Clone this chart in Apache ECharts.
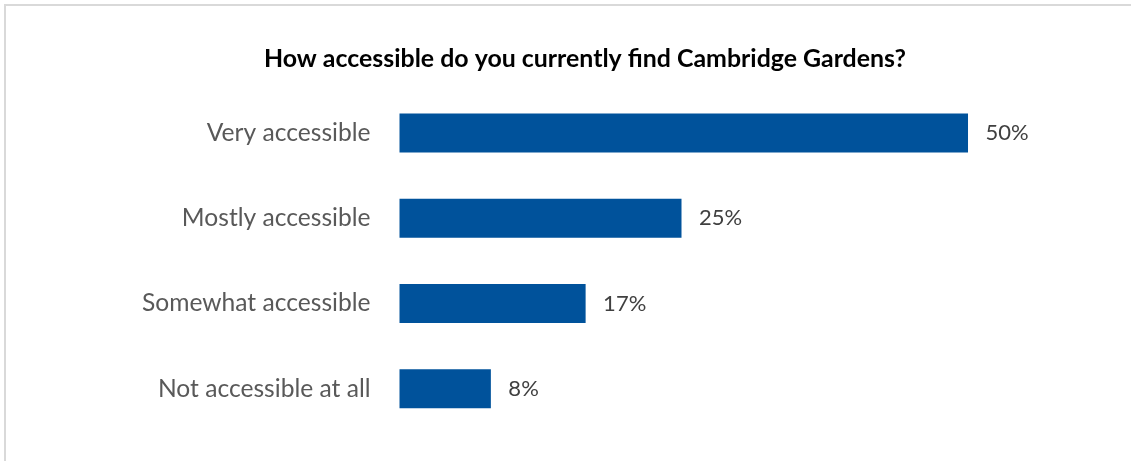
<!DOCTYPE html>
<html>
<head>
<meta charset="utf-8">
<script src="https://cdn.jsdelivr.net/npm/echarts@6/dist/echarts.min.js"></script>
<style>
html,body{margin:0;padding:0;background:#fff;}
#chart{width:1131px;height:461px;}
</style>
</head>
<body>
<div id="chart"></div>
<script>
const titleText = "How accessible do you currently find Cambridge Gardens?";
const categories = ["Very accessible", "Mostly accessible", "Somewhat accessible", "Not accessible at all"];
const values = [50.4, 25.0, 16.5, 8.1];

const chart = echarts.init(document.getElementById('chart'), null, {renderer: 'canvas'});
const option = {
  animation: false,
  backgroundColor: '#ffffff',
  title: {
    text: titleText,
    left: 580, top: 41, textAlign: 'center',
    textStyle: {fontFamily: 'Lato', fontWeight: 'bold', fontSize: 24.9, color: '#000000'}
  },
  graphic: [
    {type: 'line', shape: {x1: 4, y1: 5, x2: 1131, y2: 5}, style: {stroke: '#d9d9d9', lineWidth: 2}},
    {type: 'line', shape: {x1: 5, y1: 4, x2: 5, y2: 461}, style: {stroke: '#d9d9d9', lineWidth: 2}}
  ],
  grid: {left: 399.5, top: 90.3, width: 676.8, height: 341.2, containLabel: false},
  xAxis: {
    type: 'value', min: 0, max: 60,
    show: false
  },
  yAxis: {
    type: 'category', data: categories, inverse: true,
    axisLine: {show: false}, axisTick: {show: false},
    axisLabel: {margin: 29, fontFamily: 'Lato', fontSize: 24.6, color: '#595959'}
  },
  series: [{
    type: 'bar', data: values, barWidth: 39,
    itemStyle: {color: '#00529b'},
    label: {
      show: true, position: 'right', distance: 17.5,
      fontFamily: 'Lato', fontSize: 22, color: '#404040',
      formatter: p => Math.round(p.value) + '%'
    }
  }]
};
chart.setOption(option);
</script>
</body>
</html>
